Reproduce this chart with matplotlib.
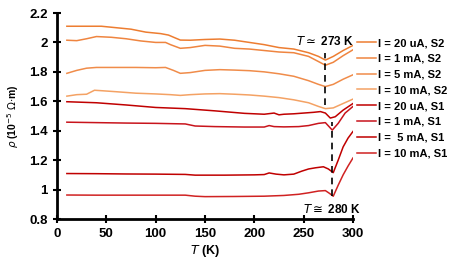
import numpy as np
import matplotlib.pyplot as plt

plt.rcParams['font.family'] = ['Liberation Sans', 'DejaVu Sans']

# resistivity vs temperature (10^-5 Ohm m)
T_a1 = [10, 30, 45, 60, 75, 90, 105, 113, 120, 125, 135, 150, 165, 180, 195, 210, 225, 240, 255, 265, 272, 280, 290, 300]
rho_a1 = [2.11, 2.11, 2.11, 2.10, 2.09, 2.07, 2.06, 2.05, 2.03, 2.016, 2.015, 2.02, 2.023, 2.015, 2.0, 1.985, 1.965, 1.955, 1.93, 1.905, 1.88, 1.905, 1.945, 1.98]

T_a2 = [10, 20, 30, 40, 55, 70, 85, 100, 110, 115, 125, 135, 150, 165, 180, 195, 210, 225, 240, 255, 265, 272, 280, 290, 300]
rho_a2 = [2.015, 2.012, 2.025, 2.04, 2.035, 2.025, 2.01, 2.0, 2.0, 1.985, 1.96, 1.965, 1.98, 1.975, 1.96, 1.955, 1.945, 1.935, 1.93, 1.905, 1.87, 1.845, 1.865, 1.91, 1.95]

T_a3 = [10, 20, 30, 40, 60, 80, 100, 110, 118, 125, 135, 150, 165, 180, 195, 210, 225, 240, 255, 265, 272, 280, 290, 300]
rho_a3 = [1.79, 1.81, 1.825, 1.83, 1.83, 1.83, 1.828, 1.83, 1.81, 1.79, 1.795, 1.81, 1.815, 1.812, 1.808, 1.8, 1.787, 1.77, 1.74, 1.715, 1.70, 1.715, 1.75, 1.78]

T_a4 = [10, 20, 30, 38, 45, 60, 80, 100, 115, 125, 135, 150, 165, 180, 195, 210, 225, 240, 255, 265, 272, 280, 290, 300]
rho_a4 = [1.635, 1.645, 1.648, 1.675, 1.672, 1.665, 1.655, 1.65, 1.645, 1.64, 1.645, 1.65, 1.652, 1.648, 1.643, 1.635, 1.625, 1.61, 1.59, 1.565, 1.55, 1.555, 1.585, 1.615]

T_b1 = [10, 40, 70, 100, 130, 160, 190, 210, 220, 225, 230, 240, 250, 260, 267, 272, 277, 282, 290, 300]
rho_b1 = [1.597, 1.59, 1.575, 1.558, 1.55, 1.535, 1.518, 1.512, 1.52, 1.508, 1.512, 1.515, 1.52, 1.525, 1.53, 1.52, 1.486, 1.495, 1.54, 1.585]

T_b2 = [10, 40, 70, 100, 130, 140, 160, 190, 210, 215, 220, 230, 245, 255, 265, 272, 279, 285, 292, 300]
rho_b2 = [1.458, 1.455, 1.452, 1.45, 1.446, 1.432, 1.428, 1.425, 1.425, 1.435, 1.428, 1.426, 1.428, 1.435, 1.45, 1.455, 1.404, 1.45, 1.52, 1.565]

T_b3 = [10, 40, 70, 100, 130, 140, 170, 200, 210, 215, 222, 230, 240, 248, 255, 262, 270, 275, 280, 285, 290, 295, 300]
rho_b3 = [1.109, 1.108, 1.106, 1.105, 1.103, 1.098, 1.098, 1.10, 1.102, 1.113, 1.105, 1.10, 1.105, 1.125, 1.14, 1.148, 1.155, 1.14, 1.115, 1.2, 1.29, 1.35, 1.395]

T_b4 = [10, 40, 70, 100, 130, 140, 150, 180, 210, 230, 245, 255, 265, 272, 276, 280, 285, 290, 295, 300]
rho_b4 = [0.963, 0.962, 0.962, 0.962, 0.962, 0.955, 0.952, 0.953, 0.955, 0.96, 0.968, 0.978, 0.99, 0.993, 0.975, 0.955, 1.03, 1.1, 1.16, 1.215]

labels = ['I = 20 uA, S2', 'I = 1 mA, S2', 'I = 5 mA, S2', 'I = 10 mA, S2',
          'I = 20 uA, S1', 'I = 1 mA, S1', 'I =  5 mA, S1', 'I = 10 mA, S1']
colors = ['#ED7D31', '#EF8540', '#F08C4A', '#F4A264',
          '#C00000', '#C8141C', '#C00000', '#D02222']

series = [(T_a1, rho_a1), (T_a2, rho_a2), (T_a3, rho_a3), (T_a4, rho_a4),
          (T_b1, rho_b1), (T_b2, rho_b2), (T_b3, rho_b3), (T_b4, rho_b4)]

fig = plt.figure(figsize=(4.57, 2.63), dpi=100)
ax = fig.add_axes([57/457, 1 - 219/263, 296/457, 206/263])

handles = []
for (t, r), c, lab in zip(series, colors, labels):
    h, = ax.plot(t, r, color=c, lw=1.1, label=lab)
    handles.append(h)

# transition markers
ax.plot([272, 272], [1.575, 1.93], ls=(0, (4, 3)), color='black', lw=1.2)
ax.plot([279, 279], [0.955, 1.46], ls=(0, (4, 3)), color='black', lw=1.2)
ax.text(272, 1.96, r'$\mathit{T}\simeq$ 273 K', ha='center', va='bottom',
        fontsize=8.5, fontweight='bold')
ax.text(279, 0.865, r'$\mathit{T}\cong$ 280 K', ha='center', va='center',
        fontsize=8.5, fontweight='bold')

ax.set_xlim(0, 300)
ax.set_ylim(0.8, 2.2)
ax.set_xticks([0, 50, 100, 150, 200, 250, 300])
ax.set_yticks([0.8, 1, 1.2, 1.4, 1.6, 1.8, 2, 2.2])
ax.set_yticklabels(['0.8', '1', '1.2', '1.4', '1.6', '1.8', '2', '2.2'])
for s in ['top', 'right']:
    ax.spines[s].set_visible(False)
for s in ['left', 'bottom']:
    ax.spines[s].set_linewidth(2)
ax.tick_params(direction='inout', length=6, width=1.5, labelsize=9.5)
for lab in ax.get_xticklabels() + ax.get_yticklabels():
    lab.set_fontweight('bold')

ax.set_xlabel(r'$\mathit{T}$ (K)', fontsize=9, fontweight='bold', labelpad=2)
ax.set_ylabel(r'$\mathit{\rho}$ (10$^{-5}$ $\Omega$$\cdot$m)', fontsize=7.5,
              fontweight='bold', labelpad=6)

fig.legend(handles=handles, loc='upper left', bbox_to_anchor=(357/457, 1 - 38/263),
           frameon=False, handlelength=1.7, handletextpad=0.15,
           borderpad=0, borderaxespad=0, labelspacing=0.52,
           prop={'weight': 'bold', 'size': 8})

fig.savefig('out.png', dpi=100)
